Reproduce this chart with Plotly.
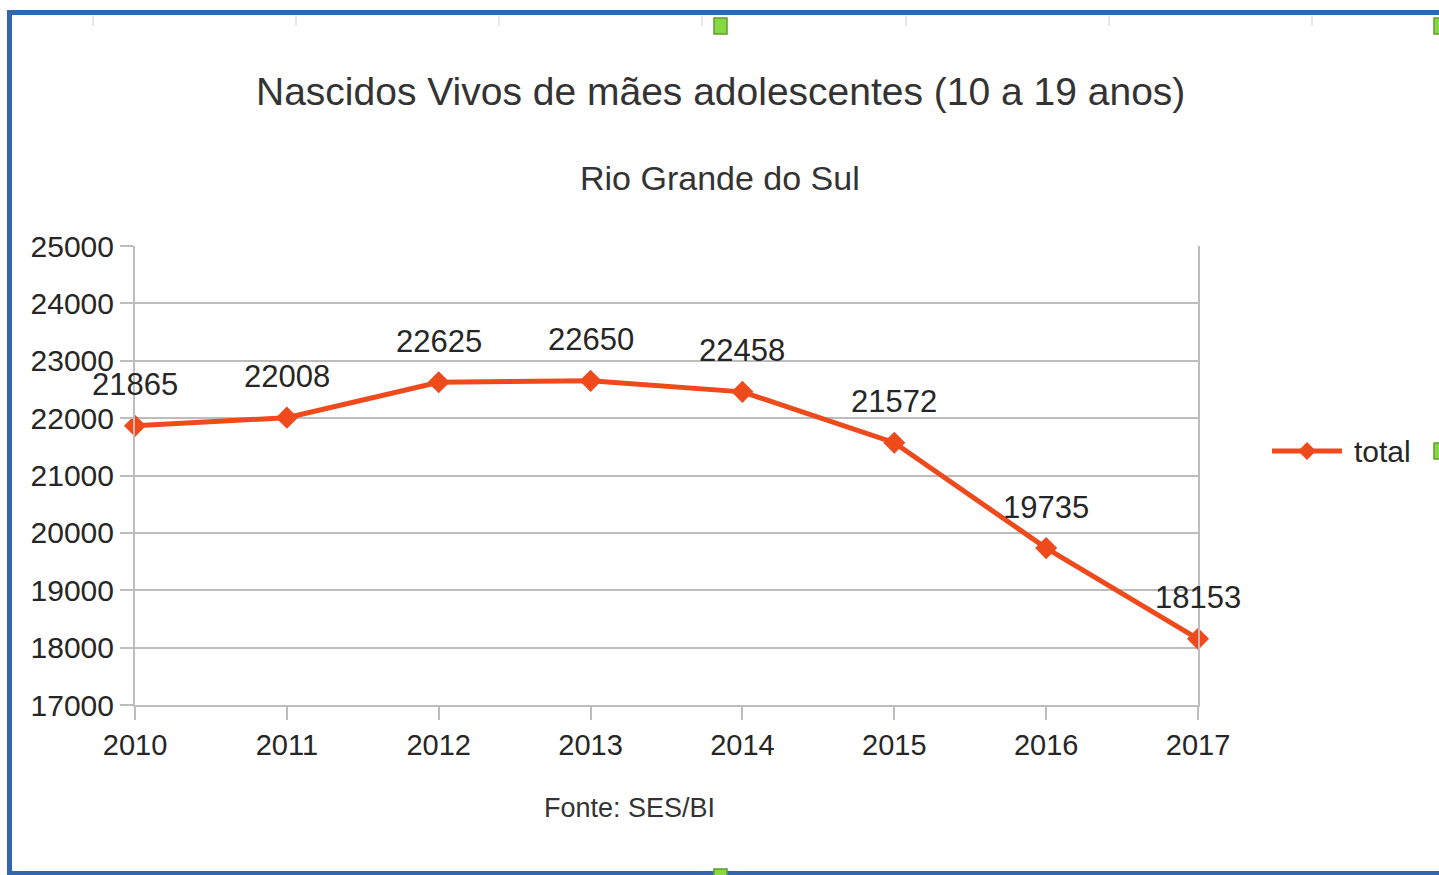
import plotly.graph_objects as go

# Live births to adolescent mothers (10-19 years), Rio Grande do Sul
anos = [2010, 2011, 2012, 2013, 2014, 2015, 2016, 2017]
total = [21865, 22008, 22625, 22650, 22458, 21572, 19735, 18153]
y_ticks = [17000, 18000, 19000, 20000, 21000, 22000, 23000, 24000, 25000]

W, H = 1439, 875
L, R, T, B = 135, 1198, 246, 705   # plot area in pixels

SERIES = "#ee4a1c"
GRID = "#bdbdbd"
TEXT = "#262626"
BLUE = "#3566ad"
FONT = "Liberation Sans"


def px(x):
    return (x - L) / (R - L)


def py(y):
    return (B - y) / (B - T)


fig = go.Figure()
fig.add_trace(go.Scatter(
    x=anos, y=total, mode="lines+markers", name="total",
    line=dict(color=SERIES, width=5),
    marker=dict(symbol="diamond", size=17, color=SERIES),
    showlegend=False, cliponaxis=False,
))

# value labels above each point
annotations = [
    dict(x=a, y=v, xref="x", yref="y", text=str(v), showarrow=False,
         yanchor="middle", yshift=41,
         font=dict(family=FONT, size=31, color=TEXT))
    for a, v in zip(anos, total)
]

annotations += [
    dict(x=px(720), y=py(92), xref="paper", yref="paper", yanchor="middle",
         text="Nascidos Vivos de mães adolescentes (10 a 19 anos)",
         showarrow=False, font=dict(family=FONT, size=39, color="#333333")),
    dict(x=px(720), y=py(178), xref="paper", yref="paper", yanchor="middle",
         text="Rio Grande do Sul", showarrow=False,
         font=dict(family=FONT, size=34, color="#333333")),
    dict(x=px(1352), y=py(451), xref="paper", yref="paper", xanchor="left",
         yanchor="middle", text="total", showarrow=False,
         font=dict(family=FONT, size=30, color=TEXT)),
    dict(x=px(629), y=py(808), xref="paper", yref="paper", yanchor="middle",
         text="Fonte: SES/BI", showarrow=False,
         font=dict(family=FONT, size=27, color="#333333")),
]

shapes = []
# legend sample: line with a diamond
shapes.append(dict(type="line", xref="paper", yref="paper",
                   x0=px(1272), x1=px(1342), y0=py(451), y1=py(451),
                   line=dict(color=SERIES, width=5)))
d = 9
shapes.append(dict(type="path", xref="paper", yref="paper",
                   path=f"M {px(1307)},{py(451 - d)} L {px(1307 + d)},{py(451)} "
                        f"L {px(1307)},{py(451 + d)} L {px(1307 - d)},{py(451)} Z",
                   fillcolor=SERIES, line=dict(width=0)))

# light ruler marks along the top edge
for xm in [93, 296, 499, 702, 906, 1109, 1312]:
    shapes.append(dict(type="line", xref="paper", yref="paper",
                       x0=px(xm), x1=px(xm), y0=py(16), y1=py(26),
                       line=dict(color="#d0d0d0", width=1)))

# blue frame around the chart object
shapes += [
    dict(type="rect", xref="paper", yref="paper", x0=px(7), x1=px(12),
         y0=py(875), y1=py(10), fillcolor=BLUE, line=dict(width=0)),
    dict(type="rect", xref="paper", yref="paper", x0=px(7), x1=px(1439),
         y0=py(15), y1=py(10), fillcolor=BLUE, line=dict(width=0)),
    dict(type="rect", xref="paper", yref="paper", x0=px(7), x1=px(1439),
         y0=py(875), y1=py(871), fillcolor=BLUE, line=dict(width=0)),
]

# green selection handles
for (x0, x1, y0, y1) in [(714, 727, 18, 34), (1434, 1442, 18, 34),
                         (1434, 1442, 443, 459), (714, 727, 869, 880)]:
    shapes.append(dict(type="rect", xref="paper", yref="paper",
                       x0=px(x0), x1=px(x1), y0=py(y1), y1=py(y0),
                       fillcolor="#86d943", line=dict(color="#5f9e2e", width=1.5)))

fig.update_layout(
    width=W, height=H,
    margin=dict(l=L, r=W - R, t=T, b=H - B, pad=0),
    paper_bgcolor="white", plot_bgcolor="white",
    font=dict(family=FONT, color=TEXT),
    annotations=annotations, shapes=shapes,
    xaxis=dict(
        range=[2010, 2017], tickvals=anos, ticktext=[str(a) for a in anos],
        showgrid=False, zeroline=False,
        showline=True, linecolor=GRID, linewidth=2, mirror=False,
        ticks="outside", ticklen=13, tickcolor=GRID, tickwidth=2,
        tickfont=dict(family=FONT, size=29, color=TEXT),
    ),
    yaxis=dict(
        range=[17000, 25000], tickvals=y_ticks,
        ticktext=[str(v) for v in y_ticks],
        showgrid=True, gridcolor=GRID, gridwidth=2, zeroline=False,
        showline=True, linecolor=GRID, linewidth=2, mirror=True,
        ticks="outside", ticklen=13, tickcolor=GRID, tickwidth=2,
        tickfont=dict(family=FONT, size=30, color=TEXT),
    ),
)

fig.write_html("out.html")
